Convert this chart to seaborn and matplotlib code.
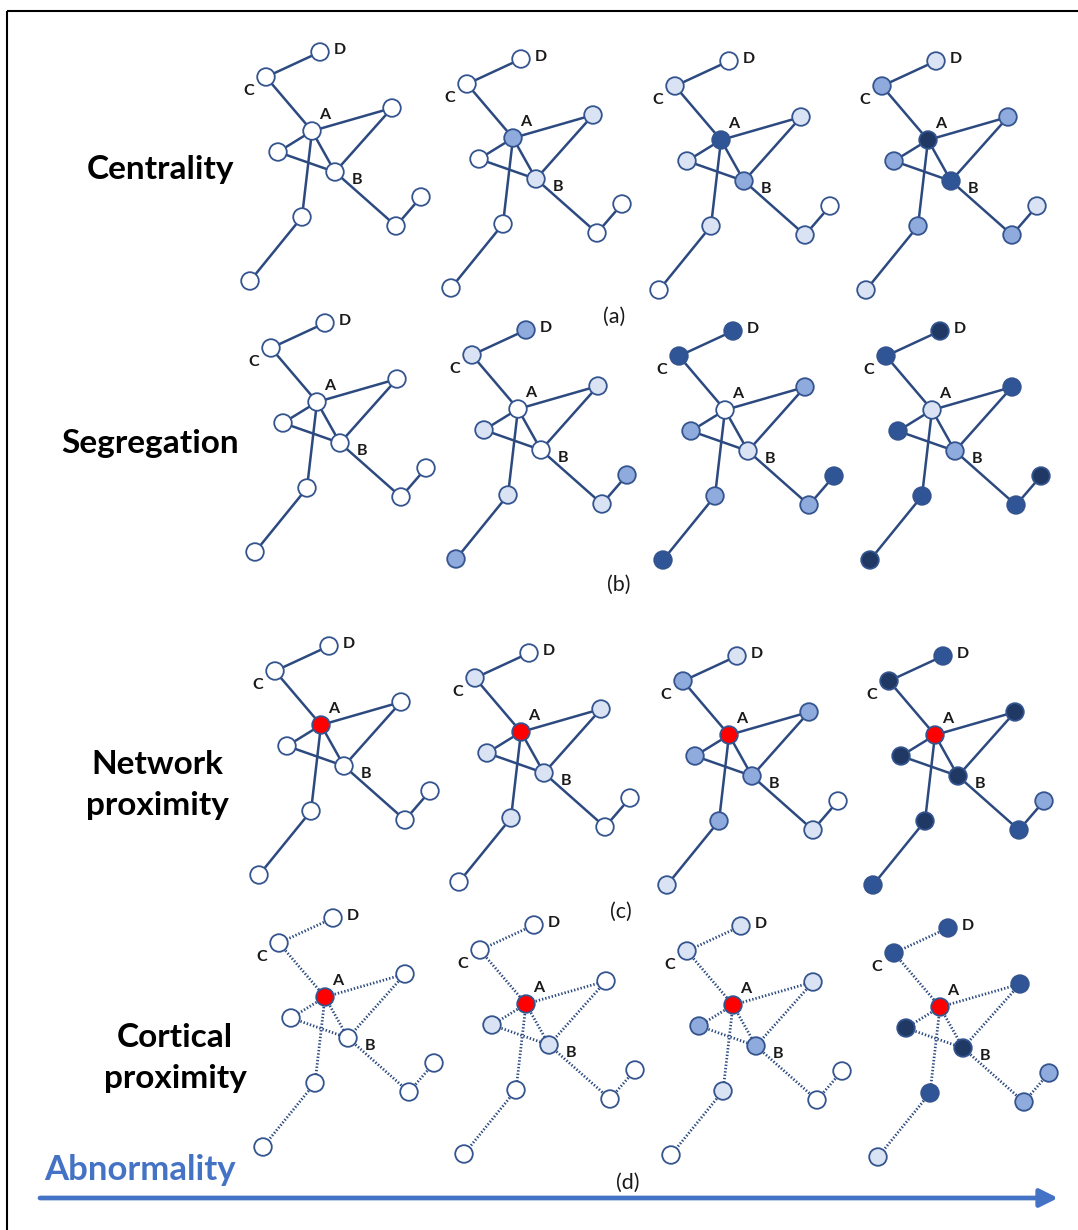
import matplotlib
matplotlib.use("Agg")
import matplotlib.pyplot as plt
import seaborn as sns
import pandas as pd
import numpy as np

sns.set_theme(style="white")
plt.rcParams['font.family'] = ['Lato', 'DejaVu Sans']

# ---- data ----
row_titles = ["Centrality", "Segregation", "Network\nproximity", "Cortical\nproximity"]
panel_tags = ["(a)", "(b)", "(c)", "(d)"]
axis_label = "Abnormality"

node_names = ["D", "C", "A", "R", "L", "B", "E", "F", "G", "H"]
node_dx = [8, -46, 0, 80, -34, 23, 84, 109, -10, -62]
node_dy = [-79, -54, 0, -23, 21, 41, 95, 66, 86, 150]
labelled_nodes = ["D", "C", "A", "B"]

edges = [("D", "C"), ("C", "A"), ("A", "R"), ("A", "L"), ("A", "B"), ("A", "G"),
         ("L", "B"), ("R", "B"), ("B", "E"), ("E", "F"), ("G", "H")]

# graph anchor (node A) positions per row / column
anchor_x = [[312, 513, 721, 928],
            [317, 518, 725, 932],
            [321, 521, 729, 935],
            [325, 526, 733, 940]]
anchor_y = [[131, 138, 140, 140],
            [402, 409, 410, 410],
            [725, 732, 735, 735],
            [997, 1004, 1005, 1007]]

# node shading levels (order D C A R L B E F G H); 9 = seed node (red)
levels_centrality = [[0, 0, 0, 0, 0, 0, 0, 0, 0, 0],
                     [0, 0, 2, 1, 0, 1, 0, 0, 0, 0],
                     [0, 1, 3, 1, 1, 2, 1, 0, 1, 0],
                     [1, 2, 4, 2, 2, 3, 2, 1, 2, 1]]
levels_segregation = [[0, 0, 0, 0, 0, 0, 0, 0, 0, 0],
                      [2, 1, 0, 1, 1, 0, 1, 2, 1, 2],
                      [3, 3, 0, 2, 2, 1, 2, 3, 2, 3],
                      [4, 3, 1, 3, 3, 2, 3, 4, 3, 4]]
levels_network = [[0, 0, 9, 0, 0, 0, 0, 0, 0, 0],
                  [0, 1, 9, 1, 1, 1, 0, 0, 1, 0],
                  [1, 2, 9, 2, 2, 2, 1, 0, 2, 1],
                  [3, 4, 9, 4, 4, 4, 3, 2, 4, 3]]
levels_cortical = [[0, 0, 9, 0, 0, 0, 0, 0, 0, 0],
                   [0, 0, 9, 0, 1, 1, 0, 0, 0, 0],
                   [1, 1, 9, 1, 2, 2, 0, 0, 1, 0],
                   [3, 3, 9, 3, 4, 4, 2, 2, 3, 1]]
all_levels = [levels_centrality, levels_segregation, levels_network, levels_cortical]
dotted_rows = [False, False, False, True]

level_colors = {0: "#ffffff", 1: "#dae3f3", 2: "#8faadc", 3: "#2f5597",
                4: "#1f3864", 9: "#ff0000"}
edge_color = "#2c4a80"
outline_color = "#34548f"
accent = "#4472c4"

# ---- build tables ----
node_rows = []
edge_rows = []
eid = 0
for r in range(4):
    for c in range(4):
        ax0, ay0 = anchor_x[r][c], anchor_y[r][c]
        pos = {}
        for i, n in enumerate(node_names):
            x, y = ax0 + node_dx[i], ay0 + node_dy[i]
            pos[n] = (x, y)
            node_rows.append(dict(row=r, col=c, node=n, x=x, y=y,
                                  level=all_levels[r][c][i]))
        for a, b in edges:
            for p in (a, b):
                edge_rows.append(dict(row=r, col=c, eid=eid,
                                      x=pos[p][0], y=pos[p][1],
                                      dotted=dotted_rows[r]))
            eid += 1
nodes = pd.DataFrame(node_rows)
edf = pd.DataFrame(edge_rows)

# ---- draw ----
fig = plt.figure(figsize=(10.78, 12.30), dpi=100)
ax = fig.add_axes([0, 0, 1, 1])
ax.set_xlim(0, 1078)
ax.set_ylim(1230, 0)
ax.axis("off")

solid = edf[~edf.dotted]
dotted = edf[edf.dotted]
sns.lineplot(data=solid, x="x", y="y", units="eid", estimator=None, sort=False,
             color=edge_color, linewidth=1.8, ax=ax, zorder=1, legend=False)
sns.lineplot(data=dotted, x="x", y="y", units="eid", estimator=None, sort=False,
             color=edge_color, linewidth=2.0, linestyle=(0, (0.5, 0.7)),
             ax=ax, zorder=1, legend=False)

sns.scatterplot(data=nodes, x="x", y="y", hue="level", palette=level_colors,
                s=160, edgecolor=outline_color, linewidth=1.3, ax=ax,
                zorder=3, legend=False)

label_off = {"D": (20, -2), "C": (-17, 14), "A": (13, -16), "B": (22, 8)}
for _, rw in nodes[nodes.node.isin(labelled_nodes)].iterrows():
    ox, oy = label_off[rw.node]
    ax.text(rw.x + ox, rw.y + oy, rw.node, fontsize=11.5, fontweight="bold",
            color="#1a1a1a", ha="center", va="center", zorder=4)

title_pos = [(160, 170), (150, 443), (157, 785), (175, 1058)]
for t, (tx, ty) in zip(row_titles, title_pos):
    ax.text(tx, ty, t, fontsize=24, fontweight="bold", color="black",
            ha="center", va="center", linespacing=1.5)

tag_pos = [(614, 317), (619, 585), (621, 912), (628, 1183)]
for t, (tx, ty) in zip(panel_tags, tag_pos):
    ax.text(tx, ty, t, fontsize=15.5, color="#1a1a1a", ha="center", va="center")

ax.text(44, 1170, axis_label, fontsize=25, fontweight="bold", color=accent,
        ha="left", va="center")
ax.annotate("", xy=(1058, 1198), xytext=(40, 1198),
            arrowprops=dict(arrowstyle="-|>,head_length=0.9,head_width=0.45",
                            color=accent, lw=3.4, shrinkA=0, shrinkB=0))

# frame lines (left and top)
ax.plot([7, 7], [11, 1230], color="black", lw=1.5, solid_capstyle="butt")
ax.plot([7, 1078], [11, 11], color="black", lw=1.5, solid_capstyle="butt")

fig.savefig("out.png", dpi=100)
